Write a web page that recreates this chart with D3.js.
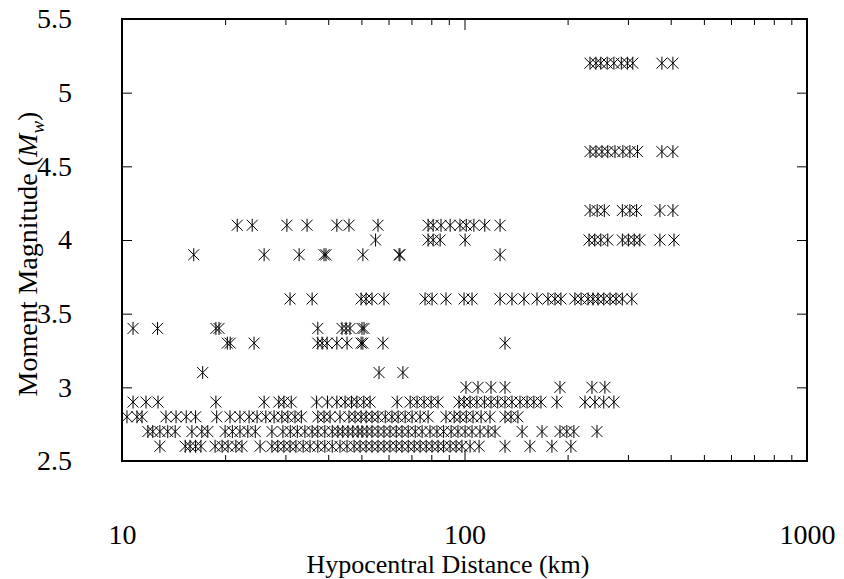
<!DOCTYPE html>
<html><head><meta charset="utf-8">
<script src="https://cdn.jsdelivr.net/npm/d3@7"></script>
<style>
body{margin:0;background:#fff;}
text{font-family:"Liberation Serif","Times New Roman",serif;fill:#000;}
</style>
</head><body>
<svg id="c" width="844" height="579"></svg>
<script>
// Magnitude rows and the hypocentral distances (km) of records at each
const dist52 = [232.5, 242, 250, 261, 273, 287, 299, 310, 377, 406];
const dist46 = [232.5, 242, 252, 262, 275, 290, 304, 320, 377, 406];
const dist42 = [232.5, 244, 256, 289, 304, 318, 372, 406];
const dist41 = [21.7, 24.0, 30.3, 34.7, 42.4, 46.0, 55.9, 78.3, 81.0, 85.4, 90.8, 97.0, 101.2, 106.5, 114.6, 127];
const dist40 = [55.0, 78.3, 81.0, 84.9, 100.4, 231, 240, 250, 262, 289, 301, 313, 325, 372, 409];
const dist39 = [16.2, 26.0, 32.9, 38.9, 39.4, 50.5, 64.4, 64.8, 127];
const dist36 = [30.95, 35.9, 49.9, 51.6, 53.7, 58.2, 76.7, 80.4, 88.3, 99.7, 105.2, 127, 137.6, 149.2, 162.8, 175.3, 183.7, 191.2, 210, 219, 229.5, 237.2, 245.3, 255, 266, 277, 289, 308];
const dist34 = [10.77, 12.7, 18.8, 19.2, 37.3, 43.9, 45.1, 46.3, 50.2, 50.9];
const dist33 = [20.3, 20.7, 24.3, 37.3, 38.4, 39.7, 42.4, 45.4, 49.9, 50.5, 57.8, 131.3];
const dist31 = [17.2, 56.3, 66.1];
const dist30 = [101, 109.5, 119.5, 131.3, 190, 235.6, 257];
const dist29 = [10.77, 11.75, 12.74, 18.8, 26.0, 28.7, 29.7, 31.2, 37.0, 39.8, 42.4, 44.8, 46.8, 48.5, 50.8, 53.0, 63.6, 69.4, 72.7, 76.2, 79.9, 83.7, 96.4, 99.7, 103.8, 108.7, 114.3, 119.5, 125, 131.3, 137.6, 145.2, 152.3, 159.4, 167.2, 186.1, 224.8, 240.4, 255, 273];
const dist28 = [10.34, 11.06, 11.44, 13.44, 14.38, 15.4, 16.4, 18.9, 20.67, 22.1, 23.5, 24.8, 26.3, 27.8, 29.3, 30.5, 32.0, 33.4, 37.3, 38.9, 40.5, 43.3, 46.0, 47.9, 49.9, 51.6, 53.7, 55.9, 58.7, 61.4, 64.0, 67.1, 70.3, 74.2, 78.3, 88.3, 93.3, 97.0, 101.2, 105.9, 111.8, 118.7, 131.3, 136.7, 143.2];
const dist27 = [11.9, 12.3, 12.9, 13.6, 14.3, 16.0, 17.1, 17.8, 20.0, 21.0, 22.1, 23.3, 24.5, 27.4, 29.5, 31.0, 32.5, 34.2, 35.9, 37.3, 39.1, 41.1, 42.7, 44.1, 45.7, 47.2, 48.9, 50.2, 51.9, 53.7, 55.9, 58.2, 60.6, 63.2, 65.7, 68.5, 71.8, 75.2, 79.3, 83.1, 86.9, 91.4, 95.7, 100.4, 105.2, 111.0, 117.2, 122.8, 147.3, 168.4, 190, 199, 208.6, 243.7];
const dist26 = [12.9, 15.3, 15.8, 16.4, 17.0, 18.7, 19.6, 20.4, 21.5, 22.4, 25.3, 27.4, 28.5, 29.7, 30.95, 32.2, 33.8, 35.4, 37.3, 39.1, 41.1, 43.3, 45.4, 47.6, 49.55, 51.6, 53.7, 55.9, 58.2, 60.6, 63.2, 65.7, 68.5, 71.3, 74.2, 77.3, 80.4, 83.7, 86.9, 90.75, 94.5, 98.3, 103.8, 110.3, 131.3, 155.3, 180, 204.5];

const magnitudes = [5.2, 4.6, 4.2, 4.1, 4.0, 3.9, 3.6, 3.4, 3.3, 3.1, 3.0, 2.9, 2.8, 2.7, 2.6];
const distanceRows = [dist52, dist46, dist42, dist41, dist40, dist39, dist36, dist34, dist33, dist31, dist30, dist29, dist28, dist27, dist26];

const xMajorTicks = [10, 100, 1000];
const xMajorLabels = ["10", "100", "1000"];
const xMinorTicks = [20, 30, 40, 50, 60, 70, 80, 90, 200, 300, 400, 500, 600, 700, 800, 900];
const yTicks = [2.5, 3, 3.5, 4, 4.5, 5, 5.5];
const yTickLabels = ["2.5", "3", "3.5", "4", "4.5", "5", "5.5"];

const points = [];
magnitudes.forEach((m, i) => distanceRows[i].forEach(d => points.push({d: d, m: m})));

const L = 122, R = 807, T = 19, B = 461;
const FS = 28;
const FF = '"Liberation Serif","Times New Roman",serif';

const svg = d3.select("#c").style("font-family", FF);
const x = d3.scaleLog().domain([10, 1000]).range([L, R]);
const y = d3.scaleLinear().domain([2.5, 5.5]).range([B, T]);

function styleAxis(g) {
  g.attr("font-family", FF).attr("font-size", FS);
  g.select(".domain").remove();
  g.selectAll(".tick line").attr("stroke", "#000").attr("stroke-width", 1);
  g.selectAll("text").style("font-size", FS + "px").style("font-family", FF);
}

// bottom axis
svg.append("g").attr("transform", `translate(0,${B})`)
  .call(d3.axisBottom(x).tickValues(xMinorTicks).tickSize(-6).tickFormat(""))
  .call(styleAxis);
svg.append("g").attr("transform", `translate(0,${B})`)
  .call(d3.axisBottom(x).tickValues(xMajorTicks).tickSize(-11).tickPadding(63)
        .tickFormat((d, i) => xMajorLabels[i]))
  .call(styleAxis);
// top axis
svg.append("g").attr("transform", `translate(0,${T})`)
  .call(d3.axisTop(x).tickValues(xMinorTicks).tickSize(-6).tickFormat(""))
  .call(styleAxis);
svg.append("g").attr("transform", `translate(0,${T})`)
  .call(d3.axisTop(x).tickValues(xMajorTicks).tickSize(-11).tickFormat(""))
  .call(styleAxis);
// left axis
svg.append("g").attr("transform", `translate(${L},0)`)
  .call(d3.axisLeft(y).tickValues(yTicks).tickSize(-10).tickPadding(50)
        .tickFormat((d, i) => yTickLabels[i]))
  .call(styleAxis);
// right axis
svg.append("g").attr("transform", `translate(${R},0)`)
  .call(d3.axisRight(y).tickValues(yTicks).tickSize(-10).tickFormat(""))
  .call(styleAxis);

// frame
svg.append("rect").attr("x", L).attr("y", T).attr("width", R - L).attr("height", B - T)
  .attr("fill", "none").attr("stroke", "#000").attr("stroke-width", 2);

// asterisk markers
const markerPath = "M-5.5,-5.5L5.5,5.5M-5.5,5.5L5.5,-5.5M0,-6.5L0,6.5";
svg.append("g").selectAll("path").data(points).join("path")
  .attr("transform", p => `translate(${x(p.d)},${y(p.m)})`)
  .attr("d", markerPath)
  .attr("stroke", "#000").attr("stroke-width", 1).attr("fill", "none");

// x title
svg.append("text").attr("x", 448).attr("y", 573)
  .attr("text-anchor", "middle").style("font-size", "26px").style("font-family", FF)
  .text("Hypocentral Distance (km)");

// y title
const yt = svg.append("text").attr("transform", `translate(37,254) rotate(-90)`)
  .attr("text-anchor", "middle").style("font-size", FS + "px").style("font-family", FF);
yt.append("tspan").text("Moment Magnitude (");
yt.append("tspan").style("font-style", "italic").text("M");
yt.append("tspan").style("font-style", "italic").style("font-size", "19px").attr("dy", 7).text("w");
yt.append("tspan").attr("dy", -7).text(")");
</script>
</body></html>
